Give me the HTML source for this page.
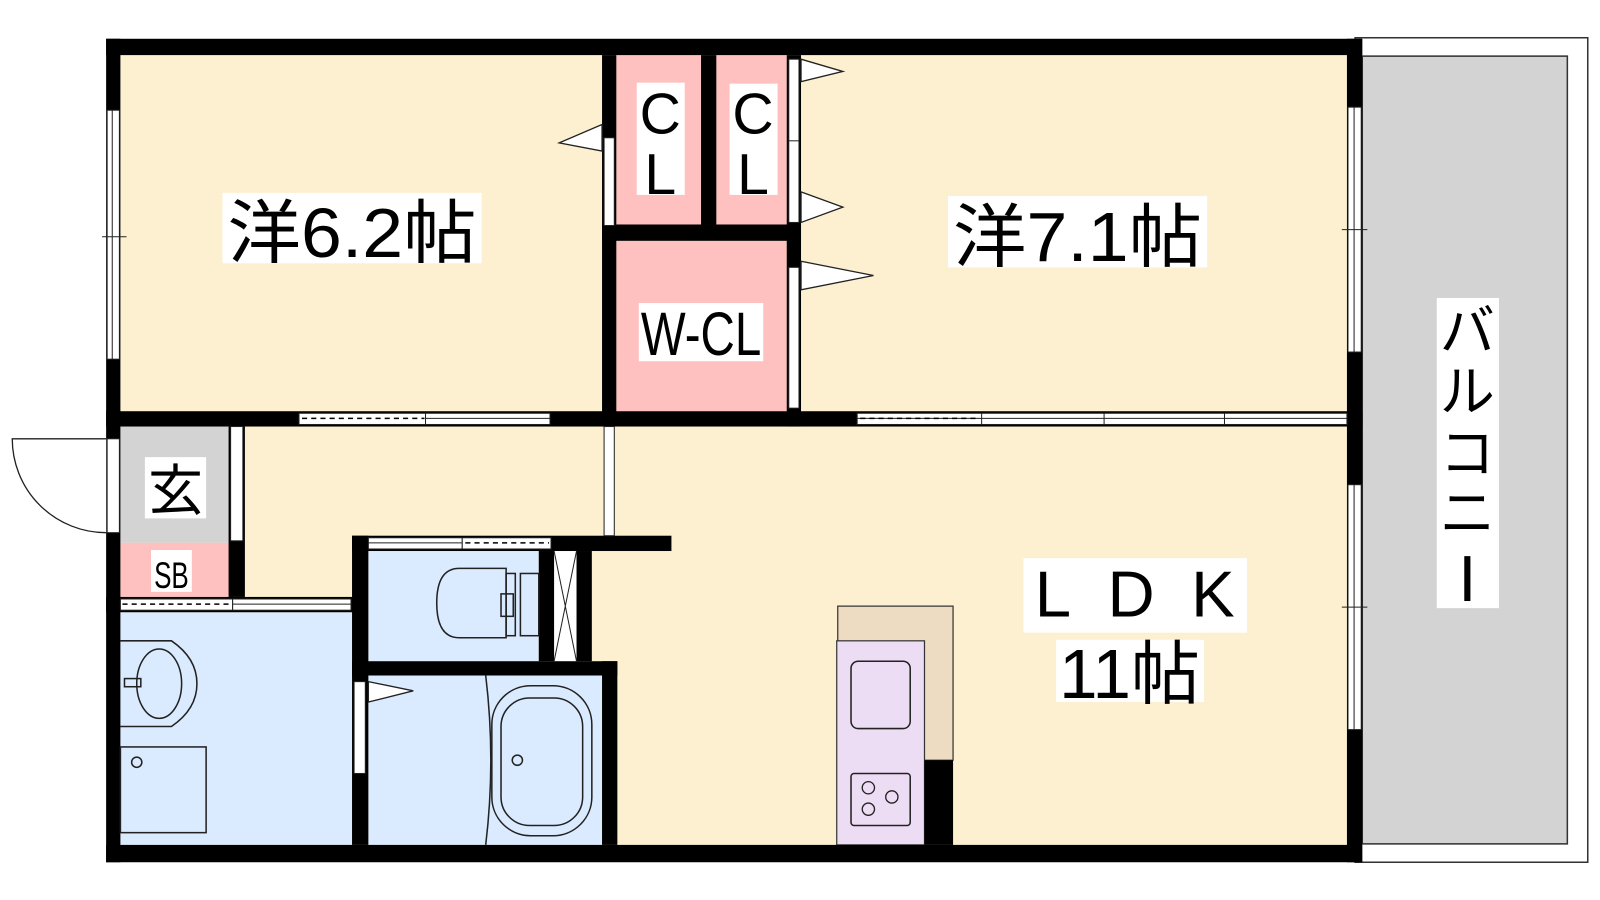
<!DOCTYPE html>
<html><head><meta charset="utf-8"><style>
html,body{margin:0;padding:0;background:#fff;width:1600px;height:900px;overflow:hidden}
svg{display:block}
text{font-family:"Liberation Sans","Noto Sans CJK JP",sans-serif}
</style></head><body>
<svg width="1600" height="900" viewBox="0 0 1568 882" xmlns="http://www.w3.org/2000/svg">
<!-- balcony -->
<rect x="1328" y="37" width="228" height="808" fill="#fff" stroke="#333" stroke-width="1.5"/>
<rect x="1335" y="55" width="201" height="772" fill="#d3d3d3" stroke="#333" stroke-width="1.5"/>
<!-- floors -->
<rect x="118" y="54" width="1202" height="775" fill="#fdf0d0"/>
<rect x="604" y="54" width="83" height="166" fill="#ffc0c0"/>
<rect x="702" y="54" width="69" height="166" fill="#ffc0c0"/>
<rect x="604" y="236" width="167" height="167" fill="#ffc0c0"/>
<rect x="118" y="418" width="106" height="114" fill="#d3d3d3"/>
<rect x="118" y="532" width="106" height="53" fill="#ffc0c0"/>
<rect x="118" y="600" width="227" height="228" fill="#dbebff"/>
<rect x="361" y="540" width="167" height="108" fill="#dbebff"/>
<rect x="361" y="662" width="229" height="166" fill="#dbebff"/>
<rect x="543" y="540" width="22" height="108" fill="#fff"/>
<!-- kitchen -->
<rect x="821" y="594" width="113" height="151" fill="#eedcc2" stroke="#333" stroke-width="1.2"/>
<rect x="820" y="628" width="86" height="200" fill="#ecdcf4" stroke="#333" stroke-width="1.2"/>
<rect x="906" y="745" width="28" height="83" fill="#000"/>
<rect x="834" y="648" width="58" height="66" rx="7" fill="none" stroke="#222" stroke-width="1.5"/>
<rect x="834" y="758" width="58" height="51" rx="3" fill="none" stroke="#222" stroke-width="1.5"/>
<circle cx="851" cy="772" r="6" fill="none" stroke="#222" stroke-width="1.3"/>
<circle cx="874" cy="781" r="6" fill="none" stroke="#222" stroke-width="1.3"/>
<circle cx="851" cy="793" r="6" fill="none" stroke="#222" stroke-width="1.3"/>
<!-- walls -->
<g fill="#000">
<rect x="104" y="38" width="1231" height="16"/>
<rect x="104" y="828" width="1231" height="17"/>
<rect x="104" y="38" width="14" height="807"/>
<rect x="1320" y="38" width="15" height="807"/>
<rect x="104" y="403" width="1231" height="15"/>
<rect x="590" y="54" width="14" height="364"/>
<rect x="687" y="54" width="15" height="166"/>
<rect x="590" y="220" width="195" height="16"/>
<rect x="771" y="54" width="14" height="364"/>
<rect x="224" y="418" width="16" height="167"/>
<rect x="104" y="585" width="255" height="15"/>
<rect x="345" y="525" width="16" height="303"/>
<rect x="345" y="525" width="313" height="15"/>
<rect x="528" y="540" width="15" height="108"/>
<rect x="565" y="540" width="15" height="108"/>
<rect x="345" y="648" width="260" height="14"/>
<rect x="590" y="648" width="15" height="180"/>
</g>
<!-- openings -->
<g fill="#fff" stroke="#222" stroke-width="1">
<rect x="105" y="108" width="12" height="244"/>
<rect x="1321" y="105" width="13" height="240"/>
<rect x="1321" y="475" width="13" height="240"/>
<rect x="105" y="430" width="12" height="92"/>
<rect x="293" y="405" width="124" height="11"/>
<rect x="417" y="405" width="122" height="11"/>
<rect x="840" y="405" width="480" height="11"/>
<rect x="592" y="135" width="10" height="86"/>
<rect x="773" y="58" width="10" height="160"/>
<rect x="773" y="262" width="10" height="138"/>
<rect x="226" y="418" width="12" height="112"/>
<rect x="592" y="418" width="10" height="107"/>
<rect x="118" y="587" width="110" height="11"/>
<rect x="228" y="587" width="116" height="11"/>
<rect x="361" y="527" width="92" height="11"/>
<rect x="453" y="527" width="87" height="11"/>
<rect x="347" y="668" width="11" height="90"/>
</g>
<g stroke="#222" stroke-width="1" fill="none">
<line x1="110" y1="108" x2="110" y2="352"/><line x1="100" y1="232" x2="124" y2="232"/>
<line x1="1327" y1="105" x2="1327" y2="345"/><line x1="1315" y1="225" x2="1340" y2="225"/>
<line x1="1327" y1="475" x2="1327" y2="715"/><line x1="1315" y1="595" x2="1340" y2="595"/>
<line x1="840" y1="410" x2="1320" y2="410"/><line x1="962" y1="405" x2="962" y2="416"/><line x1="1082" y1="405" x2="1082" y2="416"/><line x1="1200" y1="405" x2="1200" y2="416"/>
<line x1="417" y1="410" x2="539" y2="410"/><line x1="228" y1="592" x2="344" y2="592"/><line x1="361" y1="532" x2="453" y2="532"/>
<line x1="773" y1="138" x2="783" y2="138"/>
</g>
<g stroke="#000" stroke-width="1.5" stroke-dasharray="5,4">
<line x1="296" y1="410" x2="416" y2="410"/><line x1="843" y1="410" x2="960" y2="410"/>
<line x1="120" y1="592" x2="226" y2="592"/><line x1="456" y1="532" x2="538" y2="532"/>
</g>
<path d="M104,430 L12,430 A92,92 0 0 0 104,522" fill="#fff" stroke="#222" stroke-width="1.3"/>
<g fill="#fff" stroke="#222" stroke-width="1.3">
<polygon points="590,122 548,140 590,148"/>
<polygon points="785,58 826,70 785,80"/>
<polygon points="785,188 826,203 785,218"/>
<polygon points="785,256 856,270 785,284"/>
<polygon points="361,668 405,677 361,688"/>
</g>
<path d="M543,540 L565,648 M565,540 L543,648" stroke="#222" stroke-width="1"/>
<g fill="none" stroke="#222" stroke-width="1.5">
<!-- toilet -->
<path d="M496,557 L450,557 Q428,557 428,591 Q428,625 450,625 L496,625 Z"/>
<rect x="496" y="562" width="9" height="61"/>
<rect x="510" y="562" width="18" height="61"/>
<rect x="491" y="582" width="12" height="22"/>
<!-- sink -->
<path d="M118,628 L168,628 Q193,645 193,670 Q193,695 168,712 L118,712"/>
<ellipse cx="156" cy="670" rx="22" ry="34"/>
<rect x="122" y="665" width="16" height="8"/>
<rect x="118" y="732" width="84" height="84"/>
<circle cx="134" cy="747" r="5"/>
<!-- bath -->
<path d="M476,662 Q486,745 476,828"/>
<rect x="482" y="672" width="98" height="147" rx="38"/>
<rect x="491" y="684" width="80" height="125" rx="28"/>
<circle cx="507" cy="745" r="5"/>
</g>
<!-- labels -->
<rect x="218" y="189" width="254" height="69" fill="#fff"/>
<text x="345" y="252" font-size="68" text-anchor="middle" textLength="244" lengthAdjust="spacingAndGlyphs">洋6.2帖</text>
<rect x="929" y="192" width="254" height="70" fill="#fff"/>
<text x="1056" y="256" font-size="68" text-anchor="middle" textLength="244" lengthAdjust="spacingAndGlyphs">洋7.1帖</text>
<rect x="624" y="81" width="47" height="110" fill="#fff"/>
<text x="647" y="131" font-size="56" text-anchor="middle">C</text>
<text x="647" y="190" font-size="56" text-anchor="middle">L</text>
<rect x="715" y="82" width="47" height="109" fill="#fff"/>
<text x="738" y="131" font-size="56" text-anchor="middle">C</text>
<text x="738" y="190" font-size="56" text-anchor="middle">L</text>
<rect x="626" y="297" width="122" height="57" fill="#fff"/>
<text x="687" y="348" font-size="60" text-anchor="middle" textLength="118" lengthAdjust="spacingAndGlyphs">W-CL</text>
<rect x="142" y="448" width="60" height="60" fill="#fff"/>
<text x="172" y="500" font-size="54" text-anchor="middle">玄</text>
<rect x="148" y="539" width="40" height="41" fill="#fff"/>
<text x="168" y="576" font-size="36" text-anchor="middle" textLength="34" lengthAdjust="spacingAndGlyphs">SB</text>
<rect x="1003" y="547" width="219" height="73" fill="#fff"/>
<text x="1112" y="604" font-size="64" text-anchor="middle" textLength="196" lengthAdjust="spacing">LDK</text>
<rect x="1035" y="627" width="145" height="61" fill="#fff"/>
<text x="1107" y="684" font-size="68" text-anchor="middle" textLength="138" lengthAdjust="spacingAndGlyphs">11帖</text>
<rect x="1408" y="292" width="61" height="304" fill="#fff"/>
<text x="1438" y="343" font-size="54" text-anchor="middle">バ</text>
<text x="1438" y="403" font-size="54" text-anchor="middle">ル</text>
<text x="1438" y="463" font-size="54" text-anchor="middle">コ</text>
<text x="1438" y="522" font-size="54" text-anchor="middle">ニ</text>
<rect x="1435" y="545" width="6" height="44" fill="#000"/>
</svg>
</body></html>
